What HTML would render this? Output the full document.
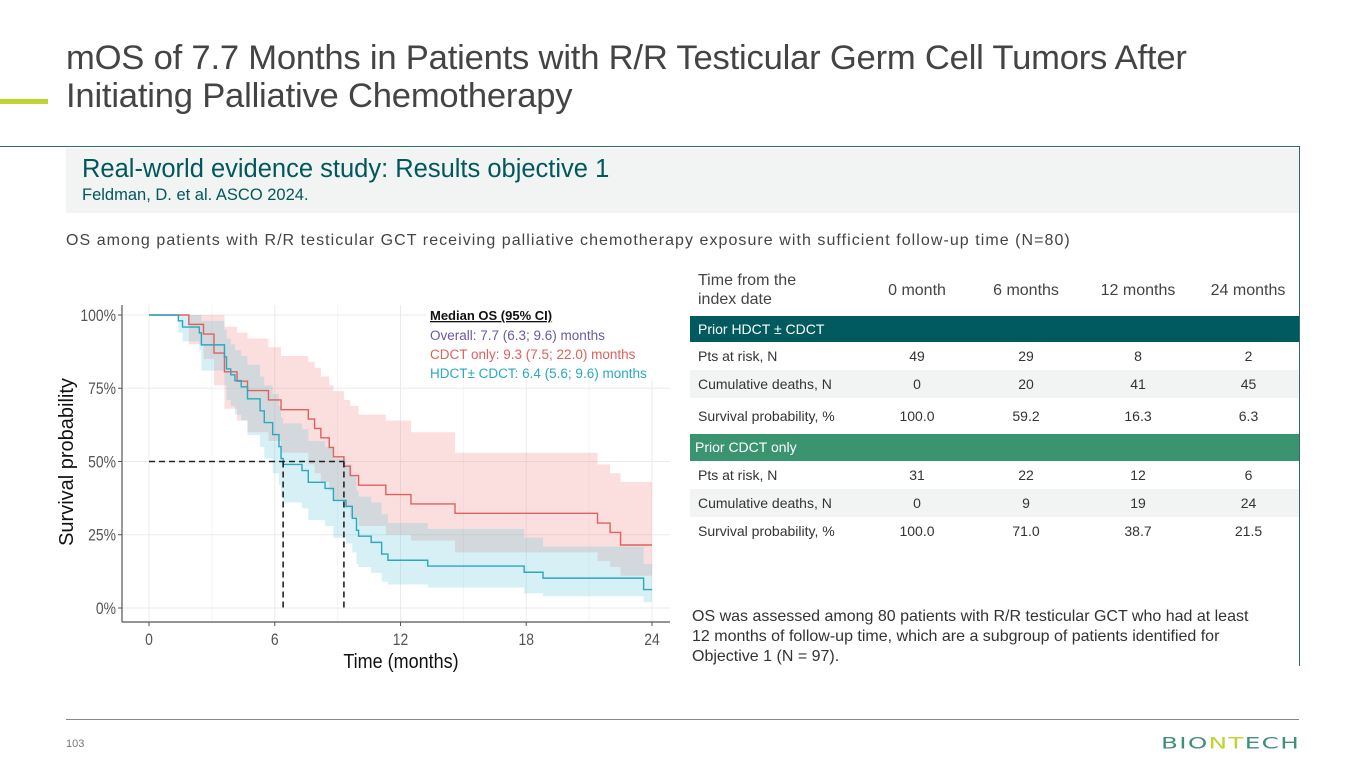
<!DOCTYPE html>
<html><head><meta charset="utf-8"><style>
body{margin:0;width:1365px;height:768px;position:relative;background:#fff;font-family:"Liberation Sans",sans-serif;overflow:hidden}
.a{position:absolute;white-space:nowrap}
.t td{font-size:14px;color:#333;height:28px;padding:0}
</style></head><body>
<div class="a" style="left:66px;top:39px;font-size:34.6px;line-height:38px;color:#444;letter-spacing:-0.2px">mOS of 7.7 Months in Patients with R/R Testicular Germ Cell Tumors After<br>Initiating Palliative Chemotherapy</div>
<div class="a" style="left:0;top:99px;width:48px;height:5px;background:#c1d32f"></div>
<div class="a" style="left:0;top:146px;width:1300px;height:1px;background:#2f6b6b"></div>
<div class="a" style="left:1299px;top:146px;width:1px;height:520px;background:#2f6b6b"></div>
<div class="a" style="left:66px;top:148px;width:1233px;height:65px;background:#f2f4f4"></div>
<div class="a" style="left:82px;top:155px;font-size:25.5px;color:#00575c">Real-world evidence study: Results objective 1</div>
<div class="a" style="left:82px;top:186px;font-size:16.5px;color:#00575c">Feldman, D. et al. ASCO 2024.</div>
<div class="a" style="left:66px;top:232px;font-size:16px;color:#444;letter-spacing:1.05px">OS among patients with R/R testicular GCT receiving palliative chemotherapy exposure with sufficient follow-up time (N=80)</div>

<svg class="a" style="left:0;top:0" width="690" height="680" id="chart"></svg>

<div class="a" style="left:698px;top:271px;font-size:16px;color:#444;line-height:19px">Time from the<br>index date</div>
<div class="a" style="left:862px;top:282px;width:110px;text-align:center;font-size:16px;color:#444">0 month</div>
<div class="a" style="left:971px;top:282px;width:110px;text-align:center;font-size:16px;color:#444">6 months</div>
<div class="a" style="left:1083px;top:282px;width:110px;text-align:center;font-size:16px;color:#444">12 months</div>
<div class="a" style="left:1188px;top:282px;width:120px;text-align:center;font-size:16px;color:#444">24 months</div>
<div class="a" style="left:690px;top:316px;width:609px;height:26px;background:#005a5e;color:#fff;font-size:14px;line-height:26px;box-sizing:border-box;padding-left:8px">Prior HDCT ± CDCT</div>
<div class="a" style="left:690px;top:434px;width:609px;height:27px;background:#3b9470;color:#fff;font-size:14px;line-height:27px;box-sizing:border-box;padding-left:5px">Prior CDCT only</div>
<div class="a" style="left:690px;top:342px;width:609px">
<table class="t" style="border-collapse:collapse;width:609px;table-layout:fixed">
<tr><td style="padding-left:8px;width:186px">Pts at risk, N</td><td style="text-align:center;width:66px">49</td><td style="text-align:center;width:152px">29</td><td style="text-align:center;width:72px">8</td><td style="text-align:center;padding-left:24px">2</td></tr>
<tr style="background:#f2f4f4"><td style="padding-left:8px">Cumulative deaths, N</td><td style="text-align:center">0</td><td style="text-align:center">20</td><td style="text-align:center">41</td><td style="text-align:center;padding-left:24px">45</td></tr>
<tr><td style="padding-left:8px;height:36px">Survival probability, %</td><td style="text-align:center">100.0</td><td style="text-align:center">59.2</td><td style="text-align:center">16.3</td><td style="text-align:center;padding-left:24px">6.3</td></tr>
</table></div>
<div class="a" style="left:690px;top:461px;width:609px">
<table class="t" style="border-collapse:collapse;width:609px;table-layout:fixed">
<tr><td style="padding-left:8px;width:186px">Pts at risk, N</td><td style="text-align:center;width:66px">31</td><td style="text-align:center;width:152px">22</td><td style="text-align:center;width:72px">12</td><td style="text-align:center;padding-left:24px">6</td></tr>
<tr style="background:#f2f4f4"><td style="padding-left:8px">Cumulative deaths, N</td><td style="text-align:center">0</td><td style="text-align:center">9</td><td style="text-align:center">19</td><td style="text-align:center;padding-left:24px">24</td></tr>
<tr><td style="padding-left:8px">Survival probability, %</td><td style="text-align:center">100.0</td><td style="text-align:center">71.0</td><td style="text-align:center">38.7</td><td style="text-align:center;padding-left:24px">21.5</td></tr>
</table></div>
<div class="a" style="left:692px;top:607px;font-size:16px;line-height:20px;color:#333">OS was assessed among 80 patients with R/R testicular GCT who had at least<br>12 months of follow-up time, which are a subgroup of patients identified for<br>Objective 1 (N = 97).</div>
<div class="a" style="left:66px;top:719px;width:1233px;height:1px;background:#888"></div>
<div class="a" style="left:66px;top:738px;font-size:11px;color:#777">103</div>
<div class="a" style="left:1161px;top:734px;font-size:19px;letter-spacing:1px;color:#3f8f7a;font-family:'DejaVu Sans',sans-serif;transform:scaleX(1.3) scaleY(0.85);transform-origin:left top">BIO<span style="color:#c1d32f">NT</span>ECH</div>

<script>
const timeTicks=[0,6,12,18,24];
const probTicks=[0,25,50,75,100];
const probTickLabels=['0%','25%','50%','75%','100%'];
const cdctTimes=[0,1.9,2.6,3.1,3.6,4.2,4.7,5.7,6.3,7.6,7.9,8.2,8.6,8.8,9.3,9.6,10.0,11.3,12.5,14.6,21.4,22.0,22.5,24];
const cdctSurv=[100,96.8,93.5,87,80.6,77.4,74.2,71,67.7,64.5,61.3,58.1,54.8,51.6,48.4,45.2,41.9,38.7,35.5,32.3,29,25.8,21.5,21.5];
const cdctUpper=[100,100,100,100,96,94,92,89,86,84,82,79,76,74,71,69,66,64,60,53,49,46,43,43];
const cdctLower=[100,90,85,76,68,64,60,57,53,49,46,43,40,37,34,31,28,25,23,19,16,14,11,11];
const hdctTimes=[0,1.4,1.6,2.4,2.5,3.6,3.7,3.9,4.1,4.4,4.7,5.3,5.5,5.9,6.2,6.3,6.4,7.3,7.6,8.4,8.8,9.4,9.7,9.9,10.0,10.6,11.1,11.4,13.3,17.9,18.8,23.6,24];
const hdctSurv=[100,98,95.9,93.9,89.8,85.7,81.6,79.6,77.6,75.5,71.4,67.3,63.3,59.2,55.1,51,49,46.9,42.9,40.8,36.7,34.7,30.6,26.5,24.5,22.4,18.4,16.3,14.3,12.2,10.2,6.3,6.3];
const hdctUpper=[100,100,100,100,98,95,92,90,88,86,83,79,76,73,69,65,63,61,57,55,51,49,45,40,38,36,32,29,27,24,21,15,15];
const hdctLower=[100,94,91,88,81,76,71,69,66,64,59,55,51,46,42,38,36,34,30,28,24,22,19,15,14,12,9,8,7,5,4,2,2];
const legendLines=['Overall: 7.7 (6.3; 9.6) months','CDCT only: 9.3 (7.5; 22.0) months','HDCT\u00b1 CDCT: 6.4 (5.6; 9.6) months'];
const medians=[6.4,9.3];

const svg=document.getElementById('chart');
const NS='http://www.w3.org/2000/svg';
const X=t=>149+t*(652-149)/24;
const Y=p=>608-p*(608-315)/100;
function mk(tag,attrs,parent){const e=document.createElementNS(NS,tag);for(const k in attrs)e.setAttribute(k,attrs[k]);(parent||svg).appendChild(e);return e;}
for(let i=0;i<timeTicks.length-1;i++){const g=mk('line',{x1:X((timeTicks[i]+timeTicks[i+1])/2),x2:X((timeTicks[i]+timeTicks[i+1])/2),y1:305,y2:622,stroke:'#f4f4f4','stroke-width':1});}
for(let i=0;i<timeTicks.length;i++){const g=mk('line',{x1:X(timeTicks[i]),x2:X(timeTicks[i]),y1:305,y2:622,stroke:'#ebebeb','stroke-width':1});}
for(let i=0;i<probTicks.length;i++){const g=mk('line',{x1:122,x2:670,y1:Y(probTicks[i]),y2:Y(probTicks[i]),stroke:'#ebebeb','stroke-width':1});}
function stepPath(ts,vs){let d='M'+X(ts[0])+','+Y(vs[0]);for(let i=1;i<ts.length;i++){d+=' H'+X(ts[i])+' V'+Y(vs[i]);}return d;}
function bandPath(ts,up,lo){let d='M'+X(ts[0])+','+Y(up[0]);for(let i=1;i<ts.length;i++){d+=' H'+X(ts[i])+' V'+Y(up[i]);}const n=ts.length-1;d+=' V'+Y(lo[n]);for(let i=n;i>0;i--){d+=' V'+Y(lo[i-1])+' H'+X(ts[i-1]);}d+='Z';return d;}
let b=mk('path',{d:bandPath(cdctTimes,cdctUpper,cdctLower),fill:'#f08080','fill-opacity':0.25});

b=mk('path',{d:bandPath(hdctTimes,hdctUpper,hdctLower),fill:'#5bc4d6','fill-opacity':0.25});

let l=mk('path',{d:stepPath(cdctTimes,cdctSurv),fill:'none',stroke:'#e0605e','stroke-width':1.4});

l=mk('path',{d:stepPath(hdctTimes,hdctSurv),fill:'none',stroke:'#2aa8c0','stroke-width':1.4});

l=mk('line',{x1:X(0),x2:X(Math.max(...medians)),y1:Y(50),y2:Y(50),stroke:'#222','stroke-width':1.6,'stroke-dasharray':'6,4'});

for(const m of medians){l=mk('line',{x1:X(m),x2:X(m),y1:Y(50),y2:Y(0),stroke:'#222','stroke-width':1.6,'stroke-dasharray':'6,4'});
}
l=mk('line',{x1:122,x2:122,y1:305,y2:622,stroke:'#555','stroke-width':1.2});
l=mk('line',{x1:122,x2:670,y1:622,y2:622,stroke:'#555','stroke-width':1.2});
for(let i=0;i<probTicks.length;i++){mk('line',{x1:118,x2:122,y1:Y(probTicks[i]),y2:Y(probTicks[i]),stroke:'#555'});
const t=mk('text',{x:116,y:Y(probTicks[i])+6,'text-anchor':'end','font-size':17,fill:'#555','font-family':'Liberation Sans',transform:'translate(116,0) scale(0.82,1) translate(-116,0)'});t.textContent=probTickLabels[i];
}
for(let i=0;i<timeTicks.length;i++){mk('line',{x1:X(timeTicks[i]),x2:X(timeTicks[i]),y1:622,y2:626,stroke:'#555'});
const t=mk('text',{x:X(timeTicks[i]),y:645,'text-anchor':'middle','font-size':17,fill:'#555','font-family':'Liberation Sans',transform:'translate('+X(timeTicks[i])+',0) scale(0.82,1) translate('+(-X(timeTicks[i]))+',0)'});t.textContent=timeTicks[i];
}
let t=mk('text',{x:401,y:668,'text-anchor':'middle','font-size':20,fill:'#111','font-family':'Liberation Sans',transform:'translate(401,0) scale(0.9,1) translate(-401,0)'});t.textContent='Time (months)';

t=mk('text',{x:0,y:0,'text-anchor':'middle','font-size':20,fill:'#111','font-family':'Liberation Sans',transform:'translate(73,462) rotate(-90)'});t.textContent='Survival probability';

mk('rect',{x:426,y:305,width:244,height:75,fill:'#fff'});
t=mk('text',{x:430,y:320,'font-size':13,'font-weight':'bold',fill:'#111','font-family':'Liberation Sans','text-decoration':'underline'});t.textContent='Median OS (95% CI)';

const lc=['#6a5aa6','#e0605e','#2aa8c0'];
for(let i=0;i<legendLines.length;i++){t=mk('text',{x:430,y:340+i*19,'font-size':13.5,fill:lc[i],'font-family':'Liberation Sans'});t.textContent=legendLines[i];
}
</script>
</body></html>
